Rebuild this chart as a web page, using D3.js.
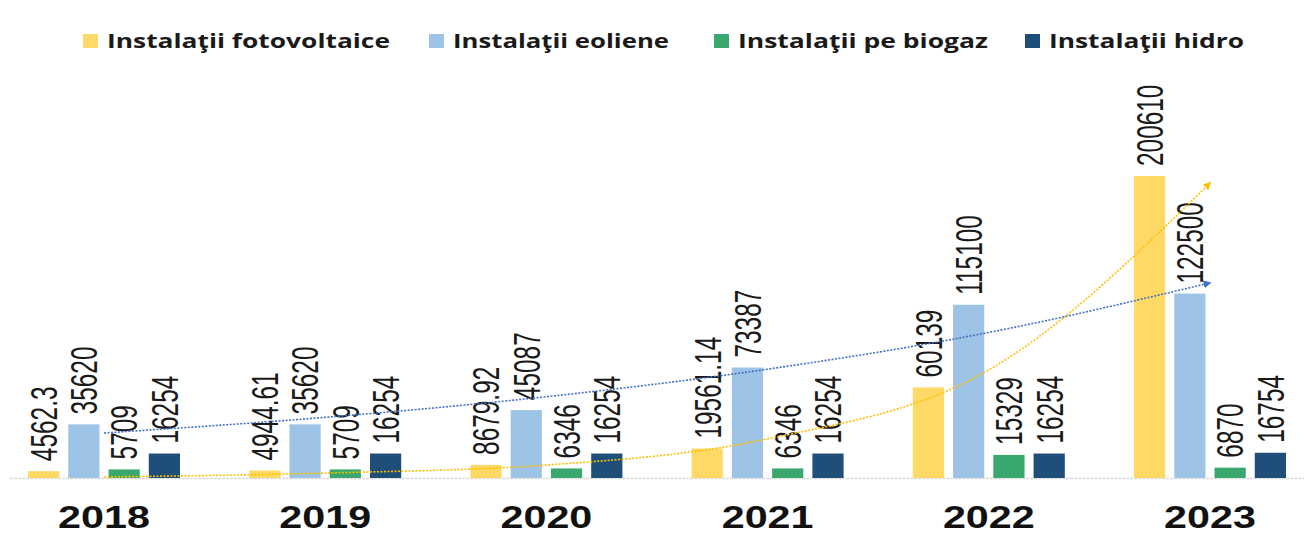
<!DOCTYPE html>
<html>
<head>
<meta charset="utf-8">
<script src="https://cdn.jsdelivr.net/npm/d3@7"></script>
<style>
  html, body { margin: 0; padding: 0; background: #ffffff; }
  svg { display: block; }
</style>
</head>
<body>
<svg id="chart" width="1304" height="535"></svg>
<script>
// ---- data ----
const years = ["2018", "2019", "2020", "2021", "2022", "2023"];
const seriesNames = ["Instalaţii fotovoltaice", "Instalaţii eoliene", "Instalaţii pe biogaz", "Instalaţii hidro"];
const fotovoltaice = [4562.3, 4944.61, 8679.92, 19561.14, 60139, 200610];
const eoliene = [35620, 35620, 45087, 73387, 115100, 122500];
const biogaz = [5709, 5709, 6346, 6346, 15329, 6870];
const hidro = [16254, 16254, 16254, 16254, 16254, 16754];
// trend lines (values at each year)
const trendFotovoltaice = [700, 3300, 8600, 26000, 71800, 196000];
const trendEoliene = [29900, 40300, 54000, 72300, 96700, 129600];

// ---- styles ----
const colors = ["#FFD966", "#9DC3E6", "#3AA86E", "#1F4E79"];
const trendColors = ["#FFC000", "#4472C4"];

const seriesValues = [fotovoltaice, eoliene, biogaz, hidro];
const rows = years.map((yr, i) => ({
  year: yr,
  vals: seriesNames.map((s, k) => ({ series: s, k: k, value: seriesValues[k][i] }))
}));

const svg = d3.select("#chart");

const x0 = d3.scalePoint().domain(years).range([104, 1210]);
const x1 = d3.scaleBand().domain(seriesNames).range([-76, 76]).paddingInner(0.225);
const y = d3.scaleLinear().domain([0, 200610]).range([478, 176]);

// baseline
svg.append("line")
  .attr("x1", 10).attr("x2", 1304)
  .attr("y1", y(0) + 0.5).attr("y2", y(0) + 0.5)
  .attr("stroke", "#D9D9D9").attr("stroke-width", 1.5)
  .attr("stroke-dasharray", "3,1");

// bars
const groups = svg.append("g").selectAll("g").data(rows).join("g")
  .attr("transform", d => `translate(${x0(d.year)},0)`);

groups.selectAll("rect").data(d => d.vals).join("rect")
  .attr("x", d => x1(d.series))
  .attr("width", x1.bandwidth())
  .attr("y", d => y(d.value))
  .attr("height", d => y(0) - y(d.value))
  .attr("fill", d => colors[d.k]);

// value labels (rotated)
groups.selectAll("text.val").data(d => d.vals).join("text")
  .attr("class", "val")
  .attr("transform", d => `translate(${x1(d.series) + x1.bandwidth() / 2},${y(d.value) - 10}) rotate(-90) scale(0.66,1)`)
  .attr("dy", "0.36em")
  .attr("text-anchor", "start")
  .attr("font-family", "'Liberation Sans', Arial, sans-serif")
  .attr("font-size", 37)
  .attr("fill", "#1a1a1a")
  .text(d => String(d.value));

// trend lines
const defs = svg.append("defs");
trendColors.forEach((c, i) => {
  defs.append("marker")
    .attr("id", "arr" + i)
    .attr("viewBox", "0 0 10 10")
    .attr("refX", 8).attr("refY", 5)
    .attr("markerWidth", 5).attr("markerHeight", 5)
    .attr("markerUnits", "strokeWidth")
    .attr("orient", "auto")
    .append("path").attr("d", "M0,0 L10,5 L0,10 z").attr("fill", c);
});

const line = d3.line()
  .x((d, i) => x0(years[i]))
  .y(d => y(d))
  .curve(d3.curveMonotoneX);

[trendFotovoltaice, trendEoliene].forEach((t, i) => {
  svg.append("path")
    .attr("d", line(t))
    .attr("fill", "none")
    .attr("stroke", trendColors[i])
    .attr("stroke-width", 1.6)
    .attr("stroke-dasharray", "2,1.5")
    .attr("marker-end", `url(#arr${i})`);
});

// year labels
svg.append("g").selectAll("text").data(years).join("text")
  .attr("transform", d => `translate(${x0(d)},528) scale(1.29,1)`)
  .attr("text-anchor", "middle")
  .attr("font-family", "'Liberation Sans', Arial, sans-serif")
  .attr("font-weight", "bold")
  .attr("font-size", 32)
  .attr("fill", "#111")
  .text(d => d);

// legend
const legendX = [83, 429, 714, 1025];
const legendW = [283, 216, 250, 195];
const lg = svg.append("g").selectAll("g").data(seriesNames).join("g")
  .attr("transform", (d, i) => `translate(${legendX[i]},0)`);
lg.append("rect")
  .attr("x", 0).attr("y", 34).attr("width", 15).attr("height", 14)
  .attr("fill", (d, i) => colors[i]);
lg.append("text")
  .attr("x", 24).attr("y", 48)
  .attr("font-family", "'Open Sans', sans-serif")
  .attr("font-weight", "bold")
  .attr("font-size", 20)
  .attr("fill", "#1a1a1a")
  .attr("textLength", (d, i) => legendW[i])
  .attr("lengthAdjust", "spacingAndGlyphs")
  .text(d => d);
</script>
</body>
</html>
